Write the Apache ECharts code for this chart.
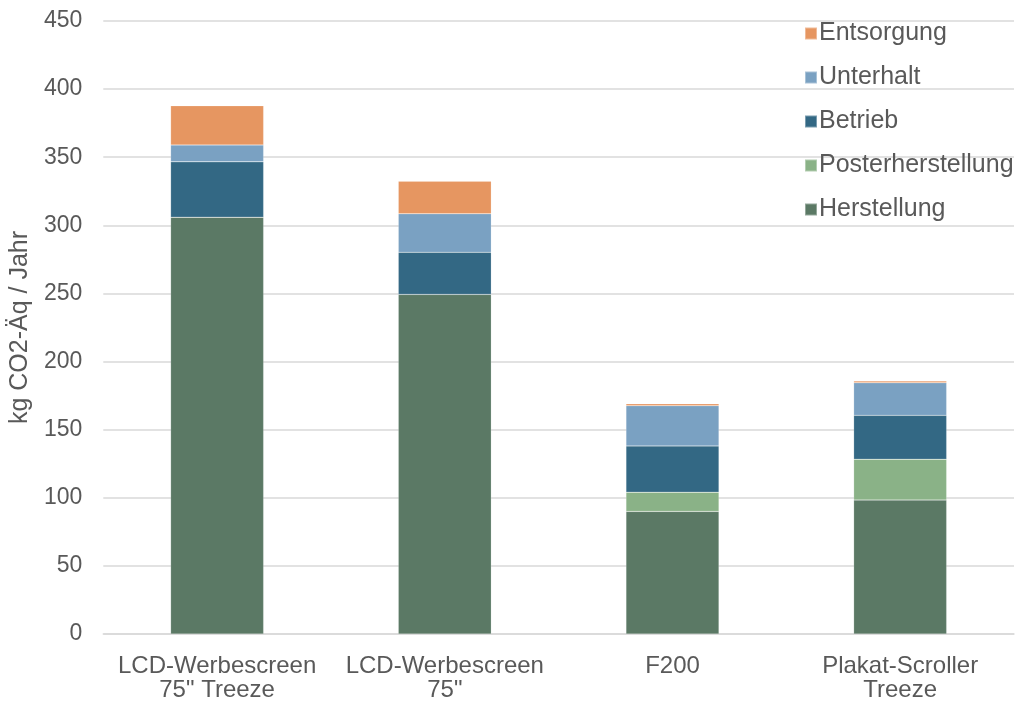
<!DOCTYPE html>
<html>
<head>
<meta charset="utf-8">
<script src="https://cdn.jsdelivr.net/npm/echarts@6/dist/echarts.min.js"></script>
<style>
  html, body { margin: 0; padding: 0; background: #fff; overflow: hidden; }
  #chart { width: 1018px; height: 702px; }
</style>
</head>
<body>
<div id="chart"></div>
<script>
// Categories (two-line labels)
const categories = ['LCD-Werbescreen\n75" Treeze', 'LCD-Werbescreen\n75"', 'F200', 'Plakat-Scroller\nTreeze'];

// Emissions per life-cycle phase, kg CO2-eq per year
const herstellung       = [306.0, 249.3, 90.0, 98.3];
const posterherstellung = [0, 0, 14.1, 30.0];
const betrieb           = [40.6, 30.9, 34.0, 32.2];
const unterhalt         = [12.4, 28.3, 29.5, 23.9];
const entsorgung        = [28.8, 23.9, 1.4, 1.4];

const yTicks = { min: 0, max: 450, interval: 50 };

const colors = {
  Herstellung: '#5B7965',
  Posterherstellung: '#8AB287',
  Betrieb: '#336884',
  Unterhalt: '#7AA1C2',
  Entsorgung: '#E69661'
};

const FONT = '"Liberation Sans", Arial, sans-serif';
const TEXT = '#595959';

function stackSeries(name, values) {
  return {
    name: name,
    type: 'bar',
    stack: 'total',
    data: values,
    barWidth: 93,
    itemStyle: { color: colors[name], borderColor: 'rgba(255,255,255,0.35)', borderWidth: 0.5 },
    emphasis: { disabled: true }
  };
}

const chart = echarts.init(document.getElementById('chart'), null, { renderer: 'canvas' });
chart.setOption({
  animation: false,
  backgroundColor: '#fff',
  textStyle: { fontFamily: FONT },
  grid: { left: 100, right: 4, top: 21, bottom: 65, containLabel: false },
  legend: {
    orient: 'vertical',
    left: 799,
    top: 16,
    itemWidth: 12,
    itemHeight: 12,
    itemGap: 19,
    icon: 'rect',
    data: ['Entsorgung', 'Unterhalt', 'Betrieb', 'Posterherstellung', 'Herstellung'],
    textStyle: { fontFamily: FONT, fontSize: 25, color: TEXT, padding: [0, 0, 0, -3], lineHeight: 25 }
  },
  xAxis: {
    type: 'category',
    data: categories,
    axisLine: { show: true, lineStyle: { color: '#D9D9D9', width: 1.5 } },
    axisTick: { show: false },
    axisLabel: { fontFamily: FONT, fontSize: 24, color: TEXT, lineHeight: 24, margin: 20, interval: 0 }
  },
  yAxis: {
    type: 'value',
    min: yTicks.min,
    max: yTicks.max,
    interval: yTicks.interval,
    name: 'kg CO2-Äq / Jahr',
    nameLocation: 'middle',
    nameGap: 63,
    nameTextStyle: { fontFamily: FONT, fontSize: 25, color: TEXT },
    axisLine: { show: false },
    axisTick: { show: false },
    axisLabel: { fontFamily: FONT, fontSize: 23, color: TEXT, margin: 21 },
    splitLine: { lineStyle: { color: '#D9D9D9', width: 1.5 } }
  },
  series: [
    stackSeries('Herstellung', herstellung),
    stackSeries('Posterherstellung', posterherstellung),
    stackSeries('Betrieb', betrieb),
    stackSeries('Unterhalt', unterhalt),
    stackSeries('Entsorgung', entsorgung)
  ]
});
</script>
</body>
</html>
